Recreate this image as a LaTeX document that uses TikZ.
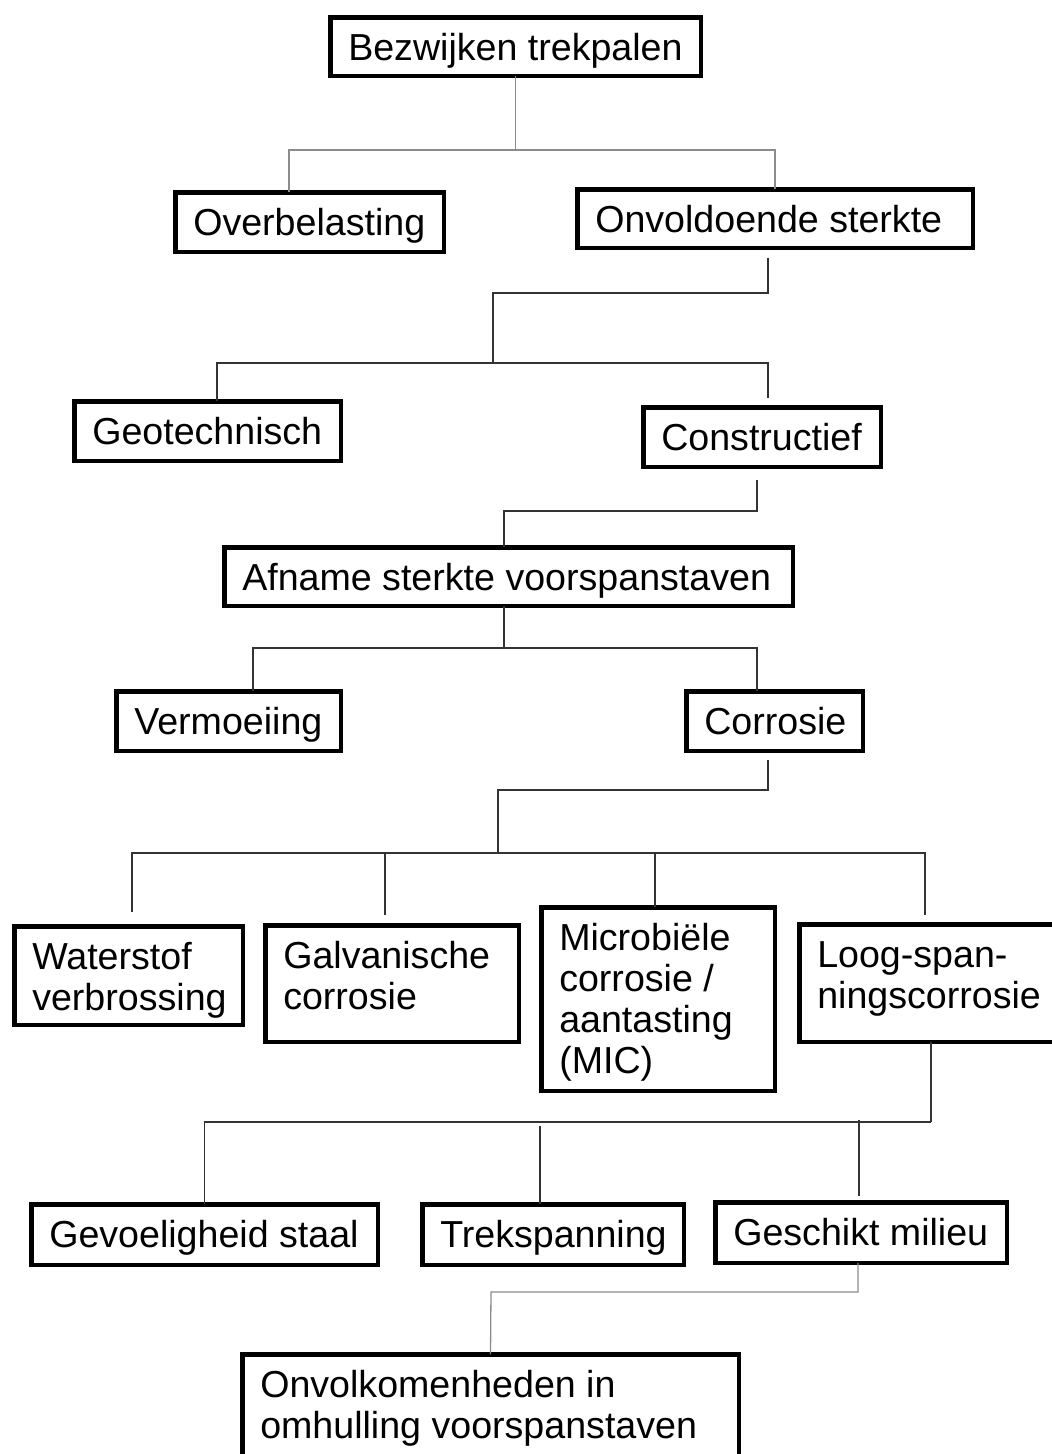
\documentclass[tikz,border=0pt]{standalone}
\usepackage{fontspec}
\setmainfont{Liberation Sans}
\newcommand{\bfont}{\fontsize{37.6pt}{41pt}\selectfont}
% box content: width, height, text (first baseline 42.75 below the top)
\newcommand{\bt}[3]{\parbox[t][#2pt][t]{#1pt}{\vspace*{\dimexpr42.75pt-\ht\strutbox\relax}\raggedright\leftskip=18pt\relax\hyphenpenalty=10000\relax\strut#3}}
\begin{document}
\begin{tikzpicture}[x=1pt,y=-1pt,
  box/.style={draw=black, line width=4.5pt, inner sep=0pt, outer sep=0pt, anchor=north west, font=\bfont, fill=white},
  gline/.style={draw=black!45, line width=1.3pt},
  dline/.style={draw=black!80, line width=1.3pt}]
\useasboundingbox[fill=white] (0,0) rectangle (1052,1454);

% nodes
\node[box] (bez)  at (330.25,17.25)   {\bt{370.5}{58.5}{Bezwijken trekpalen}};
\node[box] (ov)   at (175.25,192.25)  {\bt{268.5}{59.5}{Overbelasting}};
\node[box] (on)   at (577.25,189.25)  {\bt{395.5}{58.5}{Onvoldoende sterkte}};
\node[box] (geo)  at (74.25,401.25)   {\bt{266.5}{59.5}{Geotechnisch}};
\node[box] (con)  at (643.25,407.25)  {\bt{237.5}{59.5}{Constructief}};
\node[box] (af)   at (224.25,547.25)  {\bt{568.5}{58.5}{Afname sterkte voorspanstaven}};
\node[box] (ver)  at (116.25,691.25)  {\bt{224.5}{59.5}{Vermoeiing}};
\node[box] (cor)  at (686.25,691.25)  {\bt{176.5}{59.5}{Corrosie}};
\node[box] (wat)  at (14.25,926.25)   {\bt{228.5}{98.5}{Waterstof\\verbrossing}};
\node[box] (gal)  at (265.25,925.25)  {\bt{253.5}{116.5}{Galvanische\\corrosie}};
\node[box] (mic)  at (541.25,907.25)  {\bt{233.5}{183.5}{Microbiële\\corrosie /\\aantasting\\(MIC)}};
\node[box] (loog) at (799.25,924.25)  {\bt{258.5}{117.5}{Loog-span-\\ningscorrosie}};
\node[box] (gev)  at (31.25,1204.25)  {\bt{346.5}{60.5}{Gevoeligheid staal}};
\node[box] (trek) at (422.25,1204.25) {\bt{261.5}{60.5}{Trekspanning}};
\node[box] (ges)  at (715.25,1202.25) {\bt{291.5}{60.5}{Geschikt milieu}};
\node[box] (onv)  at (242.25,1354.25) {\bt{496.5}{120}{Onvolkomenheden in\\omhulling voorspanstaven}};

% junction points
\coordinate (j1) at (515.5,150);
\coordinate (k2) at (493,293);
\coordinate (j2) at (493,363);
\coordinate (k3) at (504,511);
\coordinate (j4) at (504,648);
\coordinate (k5) at (498,790);
\coordinate (j5) at (498,853);
\coordinate (j6) at (931,1122);
\coordinate (t6) at (540,1126);
\coordinate (g6) at (859,1120);
\coordinate (k7) at (491,1292);

% connectors
\draw[gline] (bez.south) -- (j1);
\draw[gline] ([xshift=-20.5pt]ov.north) |- (j1) -| (on.north);

\draw[dline] ([xshift=-7pt,yshift=-10pt]on.south) |- (k2) -- (j2);
\draw[dline] ([xshift=9.5pt]geo.north) |- (j2) -| ([xshift=6pt,yshift=9pt]con.north);

\draw[dline] ([xshift=-5pt,yshift=-13pt]con.south) |- (k3) -- ([xshift=-4.5pt]af.north);

\draw[dline] ([xshift=-4.5pt]af.south) -- (j4);
\draw[dline] ([xshift=24.5pt]ver.north) |- (j4) -| ([xshift=-17.5pt]cor.north);

\draw[dline] ([xshift=-6.5pt,yshift=-9pt]cor.south) |- (k5) -- (j5);
\draw[dline] ([xshift=3.5pt,yshift=14pt]wat.north) |- (j5) -| ([xshift=-3.5pt,yshift=9pt]loog.north);
\draw[dline] ([xshift=-7pt,yshift=10pt]gal.north) |- (j5);
\draw[dline] ([xshift=-3pt]mic.north) |- (j5);

\draw[dline] ([xshift=2.5pt]loog.south) -- (j6);
\draw[dline] (gev.north) |- (j6);
\draw[dline] ([xshift=-13pt]trek.north) -- (t6);
\draw[dline] ([xshift=-2pt,yshift=6pt]ges.north) -- (g6);

\draw[gline] ([xshift=-3pt]ges.south) |- (k7) -- (onv.north);
\end{tikzpicture}
\end{document}
